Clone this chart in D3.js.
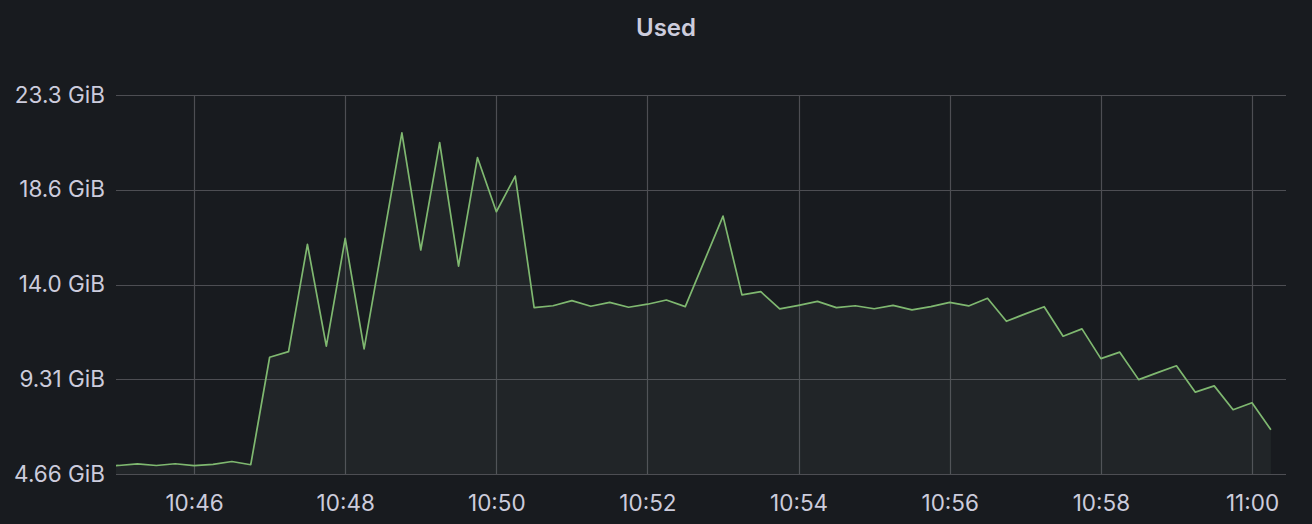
<!DOCTYPE html>
<html>
<head>
<meta charset="utf-8">
<script src="https://cdn.jsdelivr.net/npm/d3@7/dist/d3.min.js"></script>
<style>
  html, body { margin: 0; padding: 0; background: #181b1f; }
  svg { display: block; }
  text { font-family: Inter, "Noto Sans", sans-serif; }
</style>
</head>
<body>
<script>
// ---- data ----
const title = "Used";
const seriesStart = "10:44:45";      // first sample time
const stepSeconds = 15;              // sample interval
// memory used, in GB (1e9 bytes), one value per 15 s sample
const usedGB = [
  5.42, 5.45, 5.53, 5.45, 5.54, 5.44, 5.51, 5.66, 5.49,
  11.16, 11.46, 17.12, 11.75, 17.43, 11.60, 17.30, 23.00, 16.82, 22.49,
  15.97, 21.70, 18.84, 20.72, 13.78, 13.88, 14.15, 13.85, 14.06, 13.80,
  13.96, 14.18, 13.83, 16.22, 18.61, 14.45, 14.62, 13.71, 13.90, 14.11,
  13.78, 13.88, 13.72, 13.90, 13.66, 13.83, 14.06, 13.87, 14.27, 13.06,
  13.45, 13.83, 12.27, 12.66, 11.09, 11.43, 9.98, 10.35, 10.71, 9.32,
  9.65, 8.39, 8.76, 7.33
];
const xDomain = ["10:44:58", "11:00:27"];
const yTicksGB = [5, 10, 15, 20, 25];
const xTickLabels = ["10:46", "10:48", "10:50", "10:52", "10:54", "10:56", "10:58", "11:00"];

// ---- helpers ----
const parse = s => { const p = s.split(":").map(Number); return new Date(2024, 0, 1, p[0], p[1], p[2] || 0); };
const t0 = parse(seriesStart);
const data = usedGB.map((v, i) => ({ t: new Date(t0.getTime() + i * stepSeconds * 1000), v }));

const W = 1312, H = 524;
const m = { left: 116, right: 26, top: 95, bottom: 50 };

const svg = d3.select("body").append("svg").attr("width", W).attr("height", H);
svg.append("rect").attr("width", W).attr("height", H).attr("fill", "#181b1f");

const x = d3.scaleTime().domain(xDomain.map(parse)).range([m.left, W - m.right]);
const y = d3.scaleLinear().domain([5, 25]).range([H - m.bottom, m.top]);

const gib = v => d3.format(".3r")(v * 1e9 / Math.pow(2, 30)) + " GiB";

// title
svg.append("text").attr("x", 666).attr("y", 36).attr("text-anchor", "middle")
  .attr("fill", "#ccccdc").attr("font-size", 24).attr("font-weight", 600).text(title);

// grid
const gridColor = "#4d4e53";
const xTicks = xTickLabels.map(parse);
svg.append("g").selectAll("line").data(yTicksGB).join("line")
  .attr("x1", m.left).attr("x2", W - m.right)
  .attr("y1", d => Math.round(y(d)) + 0.5).attr("y2", d => Math.round(y(d)) + 0.5)
  .attr("stroke", gridColor).attr("stroke-width", 1.2);
svg.append("g").selectAll("line").data(xTicks).join("line")
  .attr("y1", y(25)).attr("y2", y(5))
  .attr("x1", d => Math.round(x(d)) + 0.5).attr("x2", d => Math.round(x(d)) + 0.5)
  .attr("stroke", gridColor).attr("stroke-width", 1.2);

// clip
svg.append("clipPath").attr("id", "clip").append("rect")
  .attr("x", m.left).attr("y", m.top - 5).attr("width", W - m.right - m.left).attr("height", H - m.bottom - m.top + 5);

const g = svg.append("g").attr("clip-path", "url(#clip)");
g.append("path").datum(data)
  .attr("d", d3.area().x(d => x(d.t)).y0(y(5)).y1(d => y(d.v)))
  .attr("fill", "#8fa89a").attr("fill-opacity", 0.08);
g.append("path").datum(data)
  .attr("d", d3.line().x(d => x(d.t)).y(d => y(d.v)))
  .attr("fill", "none").attr("stroke", "#7fb870").attr("stroke-width", 1.7)
  .attr("stroke-linejoin", "round");

// y axis labels
const yAxis = d3.axisLeft(y).tickValues(yTicksGB).tickFormat(gib).tickSize(0).tickPadding(0);
const ya = svg.append("g").attr("transform", `translate(${m.left - 11},0)`).call(yAxis);
ya.select(".domain").remove();
ya.selectAll("text").attr("fill", "#ccccdc").attr("font-size", 22.5)
  .attr("font-family", "Inter, 'Noto Sans', sans-serif").attr("dy", "0.32em");

// x axis labels
const xAxis = d3.axisBottom(x).tickValues(xTicks).tickFormat(d3.timeFormat("%H:%M")).tickSize(0).tickPadding(0);
const xa = svg.append("g").attr("transform", `translate(0,${H - m.bottom + 21})`).call(xAxis);
xa.select(".domain").remove();
xa.selectAll("text").attr("fill", "#ccccdc").attr("font-size", 22.5)
  .attr("font-family", "Inter, 'Noto Sans', sans-serif").attr("dy", "0.71em");
</script>
</body>
</html>
